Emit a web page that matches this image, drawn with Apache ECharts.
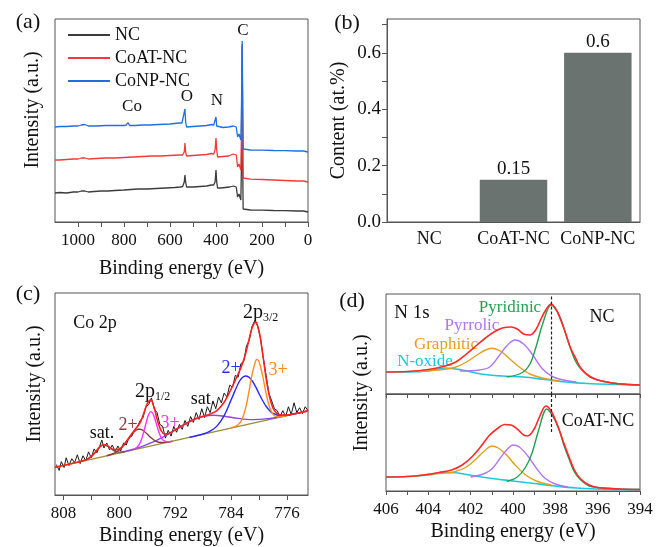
<!DOCTYPE html>
<html>
<head>
<meta charset="utf-8">
<script src="https://cdn.jsdelivr.net/npm/echarts@6.0.0/dist/echarts.min.js"></script>
<style>html,body{margin:0;padding:0;background:#fff}#c{width:656px;height:547px}</style>
</head>
<body>
<div id="c"></div>
<script>
// ---------- (a) XPS survey ----------
const surveyNC = [[1100,29],[1080,29.5],[1050,29],[1020,30],[1000,30],[985,31],[978,33],[970,31],[955,30],[930,30.5],[900,31],[870,31],[840,31.5],[800,32],[770,32.5],[740,33],[700,33],[660,33.5],[620,34],[580,34.5],[555,35],[545,35.5],[538,40],[535,47],[532,40],[528,35],[500,35],[470,35.5],[440,36],[420,37],[410,37],[404,40],[400,52],[397,40],[393,34],[380,34],[360,34.5],[340,35],[325,36],[318,37],[312,35],[306,25],[300,28],[296,30],[292,22],[289,60],[286,176],[284,60],[282,13],[280,12],[250,12],[200,11.8],[150,11.5],[100,11.3],[50,11],[20,11],[0,10]];
const surveyCoAT = [[1100,62],[1080,62],[1050,62.5],[1020,63],[1000,63],[985,64],[978,65.5],[970,64],[955,63],[920,63.5],[880,64],[840,64],[800,64.5],[760,65],[720,65.5],[680,66],[640,66],[600,66.5],[560,67],[545,67],[538,70],[535,79],[532,70],[528,66],[500,66.5],[470,67],[440,67.5],[420,68.5],[410,68],[404,72],[400,84],[397,72],[393,65],[370,65.5],[345,66],[325,68],[318,70],[312,67],[306,55],[300,58],[296,60],[292,52],[289,90],[286,178],[284,90],[282,44],[280,43],[250,42.8],[200,42.5],[150,42],[100,41.5],[50,41],[20,41],[0,40]];
const surveyCoNP = [[1100,95],[1080,95.5],[1050,95.5],[1020,96],[1000,96],[985,97],[978,99],[970,97.5],[955,96],[920,96],[880,96.5],[840,96.5],[800,96.5],[790,97],[783,99.5],[776,96.5],[750,96.5],[720,97],[690,97],[650,97.5],[600,98],[560,99],[548,99],[540,100],[535,113],[532,100],[528,95],[500,95.5],[470,96],[440,96.5],[420,97.5],[410,97],[404,99],[400,105],[397,96],[393,94],[370,94.5],[345,95],[325,96],[318,97],[312,95],[306,85],[300,88],[296,90],[292,82],[289,120],[286,181],[284,120],[282,73],[280,72],[250,72],[200,71.8],[150,71.5],[100,71.3],[50,71],[20,71],[0,70]];
const surveyLabels = [0,200,400,600,800,1000];
const surveyTicks = [0,100,200,300,400,500,600,700,800,900,1000];

// ---------- (b) Co content ----------
const contentCats = ['NC','CoAT-NC','CoNP-NC'];
const contentVals = [0, 0.15, 0.6];
const contentLabels = [0, 0.2, 0.4, 0.6];
const contentTicks = [0, 0.1, 0.2, 0.3, 0.4, 0.5, 0.6, 0.7];

// ---------- (c) Co 2p ----------
const co2pRaw = [[809.0,31],[808.6,25],[808.3,34],[807.9,28],[807.6,38],[807.2,30],[806.8,37],[806.4,33],[806.0,41],[805.6,32],[805.2,40],[804.8,35],[804.4,44],[804.0,38],[803.6,47],[803.2,43],[802.8,50],[802.5,56],[802.2,48],[801.8,53],[801.4,46],[801.0,51],[800.6,44],[800.2,50],[799.8,45],[799.4,53],[799.0,51],[798.6,59],[798.2,60],[797.8,67],[797.4,70],[797.0,76],[796.6,79],[796.2,90],[795.8,92],[795.4,99],[795.0,88],[794.6,84],[794.2,72],[793.8,70],[793.4,58],[793.0,66],[792.6,60],[792.2,70],[791.8,64],[791.4,72],[791.0,67],[790.6,76],[790.2,70],[789.8,80],[789.4,74],[789.0,84],[788.6,77],[788.2,88],[787.8,79],[787.4,90],[787.0,84],[786.6,96],[786.2,88],[785.8,100],[785.4,94],[785.0,104],[784.6,100],[784.2,112],[783.8,110],[783.4,122],[783.0,120],[782.6,134],[782.2,136],[781.8,152],[781.4,158],[781.0,172],[780.6,178],[780.2,172],[779.8,160],[779.4,140],[779.0,122],[778.6,104],[778.2,96],[777.8,88],[777.4,86],[777.0,80],[776.6,86],[776.2,80],[775.8,90],[775.4,82],[775.0,94],[774.6,84],[774.2,89],[773.8,83],[773.4,90],[773.0,86]];
const co2pEnvelope = [[809.2,28.2],[806,33.3],[804.5,36.8],[803.5,43.1],[802.8,49],[802.3,51.2],[801.6,49.8],[800.8,46.4],[800.1,46.5],[799.5,50],[798.8,56.5],[798.2,62.6],[797.6,68],[797,74],[796.5,83.2],[796,93.3],[795.5,96.8],[795,88.6],[794.5,75],[794,65.3],[793.5,62.1],[793,62.6],[792,66.4],[791,70.7],[790,74.6],[789,77.9],[788,80.2],[787,82.5],[786,86.4],[785,94.6],[784,108],[783,123.3],[782.5,131.7],[782,142.3],[781.5,156.5],[781,170.5],[780.5,176.3],[780,166.9],[779.5,144.8],[779,119.4],[778.5,100],[778,88.5],[777.5,83.5],[777,81.7],[776,81.5],[775,82.7],[773,85.8]];
const co2pBackground = [[809.2,28.2],[773,85.8]];
const co2pSatLow = [[805.5,34.5],[804.5,36.7],[803.8,40.6],[803.2,45.6],[802.7,49.5],[802.3,51.1],[801.9,50.8],[801.4,48.5],[800.8,45.4],[800.1,43.7],[799.2,44.1]];
const co2p12Co2 = [[801.8,40],[801,41.8],[800.3,44.3],[799.5,49.4],[798.8,56],[798.2,61.9],[797.6,66.1],[797.3,67],[797,67],[796.5,65.3],[796,62.1],[795.5,58.7],[794.8,55],[794,53.5],[793,54.1],[792.4,54.8]];
const co2p12Co3 = [[797.8,46.9],[797.2,50.9],[796.8,57.2],[796.3,69.9],[795.9,80.2],[795.5,85],[795.1,81.5],[794.7,72.5],[794.2,61.4],[793.8,56.3],[793.2,54.3],[792.5,54.7]];
const co2pSatHigh = [[800,43],[797,48.9],[795,54.6],[793,62.1],[791,70.7],[789.5,76.5],[788,79.9],[786.5,81.3],[785,80.3],[783,78.1],[781,76.9],[779,77.6],[777,79.8],[775,82.7],[773,85.8]];
const co2p32Co2 = [[790,58.7],[788,62.2],[787,65.1],[786,70.5],[785,81],[784,97],[783,113.4],[782.5,119],[782,121.4],[781.5,120.5],[781,116.5],[780.5,110.5],[780,103.3],[779.5,96.4],[779,90.5],[778.5,86.2],[778,83.2],[777,81],[776,81.3],[774,84.2]];
const co2p32Co3 = [[784,68.4],[783,71.6],[782.5,76.4],[782,86.5],[781.5,103.4],[781,123.1],[780.5,136.5],[780.3,138.3],[780,135.8],[779.5,121.9],[779,103.7],[778.5,89.7],[778,82.3],[777.5,79.9],[777,79.7],[776,81]];
const co2pLabels = [776,784,792,800,808];
const co2pTicks = [776,780,784,788,792,796,800,804,808];

// ---------- (d) N 1s ----------
const ncEnvelope = [[406,22],[405,22.5],[404,24.5],[403.2,28],[402.7,32],[402.2,40],[401.7,49],[401.3,56],[400.9,62],[400.5,66],[400.1,67],[399.8,65],[399.5,60],[399.2,59],[398.9,65],[398.7,74],[398.45,84],[398.2,90],[397.95,84],[397.8,77],[397.5,60],[397.3,47],[397,34],[396.8,26],[396.4,18],[396,14],[395.3,11],[394.5,9.5],[394,9]];
const ncPyridinic = [[400.3,17],[399.6,21],[399.2,30],[398.9,48],[398.6,70],[398.2,89],[397.8,78],[397.45,56],[397,31],[396.5,19],[396,14],[395.3,11],[394.5,9.5],[394,9]];
const ncPyrrolic = [[402.5,23],[401.6,24],[401.1,27],[400.7,37],[400.3,48],[399.9,54],[399.5,50],[399.1,40],[398.6,25],[398.1,17],[397.5,13.5],[397,12]];
const ncGraphitic = [[404.5,22.5],[403.3,24.5],[402.7,27],[402.2,32],[401.7,39],[401.3,44],[401.0,45.7],[400.6,43],[400.2,36],[399.7,27],[399.2,20],[398.6,16],[397.8,13]];
const ncNoxide = [[406,22],[405,22],[404,23],[403.2,26],[402.4,24],[401.5,20],[400.5,18],[399.5,17],[398.5,14.5],[397.5,12],[396.5,10.5],[395,9.5],[394,9]];
const coatEnvelope = [[406,14],[405,14.5],[404.2,16],[403.5,18.5],[402.9,21],[402.4,26],[401.9,35],[401.5,45],[401.1,56],[400.7,63],[400.4,66.5],[400.1,66],[399.8,62],[399.5,56],[399.3,55],[399.0,62],[398.75,74],[398.45,85],[398.2,80],[397.9,66],[397.6,48],[397.35,34],[397.1,21],[396.8,12],[396.4,6],[396,3.5],[395,2],[394,1.5]];
const coatPyridinic = [[400.3,9.5],[399.8,14],[399.4,24],[399.1,38],[398.8,60],[398.4,82],[398.1,74],[397.8,60],[397.6,46],[397.35,32],[397.1,19],[396.8,11],[396.4,5],[396,3.5],[395,2],[394,1.5]];
const coatPyrrolic = [[402,14],[401.4,17],[401,22],[400.6,33],[400.3,41],[400,46],[399.7,44],[399.3,35],[398.9,23],[398.5,13],[398,7],[397.4,4]];
const coatGraphitic = [[404.5,15.5],[403.5,17.5],[402.8,19],[402.2,24],[401.7,33],[401.3,41],[401,45],[400.7,43],[400.3,36],[399.9,26],[399.4,16],[398.9,10],[398.2,6]];
const coatNoxide = [[406,14],[405,14.5],[404,16],[403.2,18.5],[402.6,18],[401.8,15],[401,12.5],[400,10],[399,7.5],[398,5],[397,3],[396,2],[395,1.5],[394,1.5]];
const pyridinicRef = 398.2;
const n1sLabels = [394,396,398,400,402,404,406];
const n1sTicks = [394,395,396,397,398,399,400,401,402,403,404,405,406];

// ---------- build ----------
const FONT = "'Liberation Serif','Times New Roman',serif";
const AX = '#555';
const chart = echarts.init(document.getElementById('c'), null, {renderer:'canvas'});

function xval(gi, min, max, labels, ticks, showLabels, nameGap, margin){
  return {
    type:'value', gridIndex:gi, min:min, max:max, inverse:true,
    axisLine:{show:true, lineStyle:{color:AX, width:1}},
    axisTick:{show:true, customValues:ticks, length:5, lineStyle:{color:AX}},
    axisLabel:{show:showLabels, customValues:labels, formatter:v=>String(v), fontSize:17, fontFamily:FONT, color:'#111', margin:margin||8},
    splitLine:{show:false},
    name: showLabels ? 'Binding energy (eV)' : '', nameLocation:'middle', nameGap:nameGap,
    nameTextStyle:{fontSize:20, fontFamily:FONT, color:'#111'}
  };
}
function yhidden(gi, max){
  return {
    type:'value', gridIndex:gi, min:0, max:max,
    axisLine:{show:false}, axisTick:{show:false}, axisLabel:{show:false}, splitLine:{show:false}
  };
}
function ln(name, data, idx, color, opt){
  opt = opt || {};
  return Object.assign({
    type:'line', name:name, data:data, xAxisIndex:idx, yAxisIndex:idx,
    showSymbol:false, symbol:'none', smooth:opt.smooth===undefined?0.35:opt.smooth,
    itemStyle:{color:color}, lineStyle:{color:color, width:opt.w||1.4},
    z: opt.z||2, silent:true
  }, opt.extra||{});
}
function T(x,y,text,color,size,extra){
  return Object.assign({type:'text', x:x, y:y, silent:true,
    style:{text:text, fill:color||'#111', fontSize:size||17, fontFamily:FONT, align:'center', verticalAlign:'middle'}}, extra||{});
}

const grid = [
  {left:55, top:19, width:253, height:203},
  {left:387, top:19, width:253, height:203},
  {left:55, top:293, width:253, height:206},
  {left:386, top:294, width:254, height:100},
  {left:386, top:394, width:254, height:97}
].map(g => Object.assign(g, {show:true, borderColor:AX, borderWidth:1, containLabel:false}));

const xAxis = [
  xval(0, 0, 1100, surveyLabels, surveyTicks, true, 37, 10),
  {type:'category', gridIndex:1, data:contentCats,
   axisLine:{show:true, lineStyle:{color:AX}}, axisTick:{show:false},
   axisLabel:{interval:0, hideOverlap:false, fontSize:18, fontFamily:FONT, color:'#111', margin:8}, splitLine:{show:false}},
  xval(2, 773, 809.2, co2pLabels, co2pTicks, true, 31, 10),
  xval(3, 394, 406, n1sLabels, n1sTicks, false, 0),
  xval(4, 394, 406, n1sLabels, n1sTicks, true, 31, 10)
];
xAxis[3].axisTick.length = 4;
xAxis[4].axisTick.length = 4;

const yAxis = [
  yhidden(0, 203),
  {type:'value', gridIndex:1, min:0, max:0.72,
   axisLine:{show:true, lineStyle:{color:AX}},
   axisTick:{show:true, customValues:contentTicks, length:5, lineStyle:{color:AX}},
   axisLabel:{customValues:contentLabels, formatter:v=>Number(v).toFixed(1), fontSize:19, fontFamily:FONT, color:'#111', margin:6},
   splitLine:{show:false},
   name:'Content (at.%)', nameLocation:'middle', nameGap:38,
   nameTextStyle:{fontSize:20, fontFamily:FONT, color:'#111'}},
  yhidden(2, 206),
  yhidden(3, 100),
  yhidden(4, 97)
];

const dash = {symbol:'none', silent:true, label:{show:false}, lineStyle:{type:[3,2], color:'#222', width:1.2}};
const series = [
  // (a)
  ln('NC', surveyNC, 0, '#3c3c3c', {smooth:false, w:1.3}),
  ln('CoAT-NC', surveyCoAT, 0, '#f23a3a', {smooth:false, w:1.3}),
  ln('CoNP-NC', surveyCoNP, 0, '#1f6fe0', {smooth:false, w:1.3}),
  // (b)
  {type:'bar', name:'Co content', xAxisIndex:1, yAxisIndex:1, data:contentVals, barWidth:'80%',
   itemStyle:{color:'#6b7370'}, silent:true,
   label:{show:true, position:'top', distance:1, fontSize:19, fontFamily:FONT, color:'#111',
          formatter:p=>p.value ? String(p.value) : ''}},
  // (c)
  ln('raw', co2pRaw, 2, '#1a1a1a', {smooth:false, w:1}),
  ln('bg', co2pBackground, 2, '#9c8a3c', {smooth:false, w:1.4}),
  ln('satHigh', co2pSatHigh, 2, '#8e44e0'),
  ln('satLow', co2pSatLow, 2, '#7a5a2a'),
  ln('p12co2', co2p12Co2, 2, '#8c3a3a'),
  ln('p12co3', co2p12Co3, 2, '#ff33ff'),
  ln('p32co2', co2p32Co2, 2, '#2b2bff'),
  ln('p32co3', co2p32Co3, 2, '#ff8c1e'),
  ln('env', co2pEnvelope, 2, '#ff2020', {w:1.6}),
  // (d) top
  ln('ncNox', ncNoxide, 3, '#1ec8dc', {w:1.6}),
  ln('ncGra', ncGraphitic, 3, '#e0a020'),
  ln('ncPyr', ncPyrrolic, 3, '#b075f0'),
  ln('ncPyd', ncPyridinic, 3, '#22a050', {extra:{markLine:Object.assign({data:[[{coord:[pyridinicRef,97.5]},{coord:[pyridinicRef,0]}]]}, dash)}}),
  ln('ncEnv', ncEnvelope, 3, '#ff2a2a', {w:1.6}),
  // (d) bottom
  ln('coNox', coatNoxide, 4, '#1ec8dc', {w:1.6}),
  ln('coGra', coatGraphitic, 4, '#e0a020'),
  ln('coPyr', coatPyrrolic, 4, '#b075f0'),
  ln('coPyd', coatPyridinic, 4, '#22a050', {extra:{markLine:Object.assign({data:[[{coord:[pyridinicRef,97]},{coord:[pyridinicRef,58]}]]}, dash)}}),
  ln('coEnv', coatEnvelope, 4, '#ff2a2a', {w:1.6})
];

const rot = {rotation:Math.PI/2};
const graphic = [
  T(28,22,'(a)','#111',22), T(347,23,'(b)','#111',22), T(28,294,'(c)','#111',22), T(352,301,'(d)','#111',22),
  // y titles
  T(33,110,'Intensity (a.u.)','#111',20,rot),
  T(35,384,'Intensity (a.u.)','#111',20,rot),
  T(362,393,'Intensity (a.u.)','#111',20,rot),
  // (a)
  T(243,31,'C','#111',17), T(187,97,'O','#111',17), T(217,101,'N','#111',17), T(132,107,'Co','#111',17),
  // (c)
  T(95,323,'Co 2p','#111',18),
  {type:'text', x:243, y:313, silent:true, style:{text:'{m|2p}{s|3/2}', align:'left', verticalAlign:'middle',
     rich:{m:{fontSize:20, fontFamily:FONT, fill:'#111'}, s:{fontSize:12, fontFamily:FONT, fill:'#111', padding:[9,0,0,0]}}}},
  {type:'text', x:135, y:392, silent:true, style:{text:'{m|2p}{s|1/2}', align:'left', verticalAlign:'middle',
     rich:{m:{fontSize:20, fontFamily:FONT, fill:'#111'}, s:{fontSize:12, fontFamily:FONT, fill:'#111', padding:[9,0,0,0]}}}},
  T(231,368,'2+','#2b2bff',18), T(278,370,'3+','#ff8c1e',18),
  T(203,399,'sat.','#111',18), T(102,433,'sat.','#111',18),
  T(128,425,'2+','#8c3a3a',18), T(170,423,'3+','#ff33ff',18),
  // (d)
  T(412,313,'N 1s','#111',19), T(510,308,'Pyridinic','#22a050',17), T(472,326,'Pyrrolic','#b075f0',17),
  T(446,345,'Graphitic','#e0a020',17), T(425,362,'N-oxide','#1ec8dc',17),
  T(602,317,'NC','#111',18), T(598,421,'CoAT-NC','#111',18)
];

chart.setOption({
  animation:false,
  backgroundColor:'#fff',
  textStyle:{fontFamily:FONT},
  legend:{data:['NC','CoAT-NC','CoNP-NC'], orient:'vertical', left:63, top:21, icon:'rect',
          itemWidth:42, itemHeight:2, itemGap:5, selectedMode:false,
          textStyle:{fontSize:18, fontFamily:FONT, color:'#111'}},
  grid:grid, xAxis:xAxis, yAxis:yAxis, series:series, graphic:graphic
});
</script>
</body>
</html>
